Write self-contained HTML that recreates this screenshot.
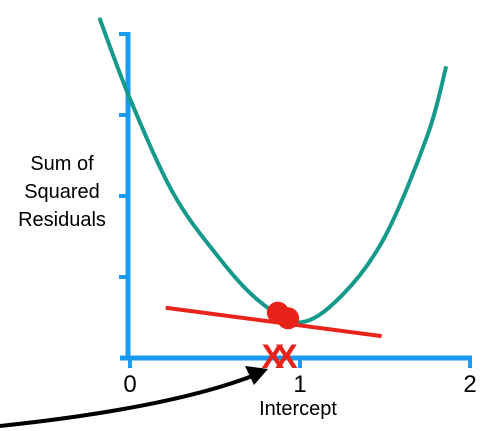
<!DOCTYPE html>
<html><head><meta charset="utf-8"><style>
html,body{margin:0;padding:0;background:#fff;}
svg{display:block;font-family:"Liberation Sans",Arial,sans-serif;}
</style></head><body>
<svg id="chart" width="493" height="431" viewBox="0 0 493 431">
<g id="axes"></g>
<g id="marks"></g>
<text x="62" y="170" text-anchor="middle" font-size="20"><tspan x="62">Sum of</tspan><tspan x="62" dy="28">Squared</tspan><tspan x="62" dy="28">Residuals</tspan></text>
<text x="298" y="415" text-anchor="middle" font-size="20">Intercept</text>
<path d="M0,426 Q170,408 255,375" fill="none" stroke="#000" stroke-width="4"/>
<polygon points="268,369 245,366 254,385" fill="#000"/>
</svg>
<script>
const curveX = [-0.18, 0, 0.25, 0.5, 0.75, 1.0, 1.25, 1.5, 1.75, 1.86];
const curveY = [4.2, 3.2, 2.05, 1.3, 0.72, 0.44, 0.78, 1.5, 2.75, 3.6];
const tangentX = [0.21, 1.48];
const tangentY = [0.62, 0.27];
const dotX = [0.87, 0.93];
const dotY = [0.56, 0.49];
const guessX = [0.84, 0.92];
const xTicks = [0, 1, 2];
const xTickLabels = ["0", "1", "2"];
const yTicks = [1, 2, 3, 4];

const sx = v => 130 + v * 170;
const sy = v => 358 - v * 81;
const NS = "http://www.w3.org/2000/svg";
const mk = (t, a, p) => { const e = document.createElementNS(NS, t); for (const k in a) e.setAttribute(k, a[k]); p.appendChild(e); return e; };
const axes = document.getElementById('axes'), marks = document.getElementById('marks');
const blue = "#1a9af0";

let e = mk('line', {x1: 120, y1: sy(0), x2: sx(2) + 2, y2: sy(0), stroke: blue, 'stroke-width': 5}, axes);


e = mk('line', {x1: 128, y1: sy(4) - 2, x2: 128, y2: sy(0) + 2, stroke: blue, 'stroke-width': 5}, axes);


yTicks.forEach(v => {
  const t = mk('line', {x1: 119, y1: sy(v), x2: 129, y2: sy(v), stroke: blue, 'stroke-width': 4}, axes);
  
  
});
xTicks.forEach((v, i) => {
  const t = mk('line', {x1: sx(v), y1: sy(0), x2: sx(v), y2: sy(0) + 10, stroke: blue, 'stroke-width': 4}, axes);
  
  
  const l = mk('text', {x: sx(v), y: 392, 'text-anchor': 'middle', 'font-size': 24}, axes);
  l.textContent = xTickLabels[i];
  
  
});

const P = curveX.map((x, i) => [sx(x), sy(curveY[i])]);
let d = `M${P[0][0]},${P[0][1]}`;
for (let i = 0; i < P.length - 1; i++) {
  const p0 = P[Math.max(0, i - 1)], p1 = P[i], p2 = P[i + 1], p3 = P[Math.min(P.length - 1, i + 2)];
  d += ` C${p1[0] + (p2[0] - p0[0]) / 6},${p1[1] + (p2[1] - p0[1]) / 6} ${p2[0] - (p3[0] - p1[0]) / 6},${p2[1] - (p3[1] - p1[1]) / 6} ${p2[0]},${p2[1]}`;
}
e = mk('path', {d: d, fill: 'none', stroke: '#14998a', 'stroke-width': 4}, marks);



e = mk('line', {x1: sx(tangentX[0]), y1: sy(tangentY[0]), x2: sx(tangentX[1]), y2: sy(tangentY[1]), stroke: '#e8231a', 'stroke-width': 4}, marks);


dotX.forEach((x, i) => {
  const c = mk('circle', {cx: sx(x), cy: sy(dotY[i]), r: 11, fill: '#e8231a'}, marks);
  
  
});
guessX.forEach(x => {
  const t = mk('text', {x: sx(x), y: sy(0) + 10, 'text-anchor': 'middle', 'font-size': 34, 'font-weight': 'bold', fill: '#e8231a'}, marks);
  t.textContent = 'X';
  
  
});
</script>
</body></html>
